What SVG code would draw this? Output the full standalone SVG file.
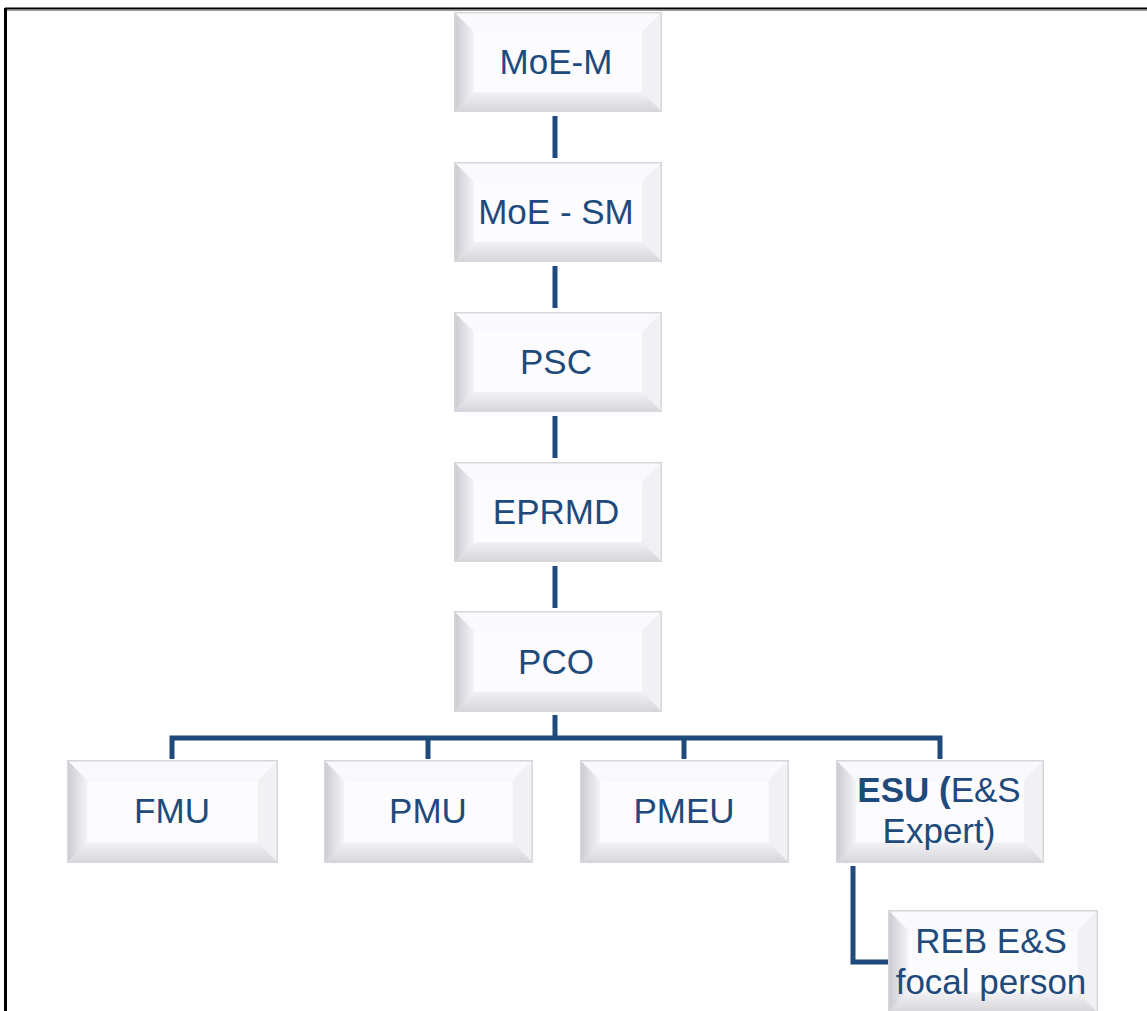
<svg xmlns="http://www.w3.org/2000/svg" xmlns:xlink="http://www.w3.org/1999/xlink" width="1147" height="1011" viewBox="0 0 1147 1011">
<style>
  .lbl { font-family: "Liberation Sans", Arial, sans-serif; font-size: 35px; fill: #1F4A7C; text-anchor: middle; }
  .b { font-weight: bold; }
  .conn { fill: none; stroke: #1F4A7C; stroke-width: 5; stroke-linejoin: miter; }
</style>
<defs>
  <linearGradient id="gl" x1="0" y1="0" x2="1" y2="0">
    <stop offset="0" stop-color="#c9c9d1"/>
    <stop offset="1" stop-color="#f4f4f7"/>
  </linearGradient>
  <linearGradient id="gb" x1="0" y1="0" x2="0" y2="1">
    <stop offset="0" stop-color="#f2f2f5"/>
    <stop offset="1" stop-color="#d4d4da"/>
  </linearGradient>
  <symbol id="bevel" viewBox="0 0 208 100" preserveAspectRatio="none">
    <rect x="0" y="0" width="208" height="100" fill="#eeeef1"/>
    <polygon points="0,0 208,0 188,20 20,20" fill="#fafafc"/>
    <polygon points="208,0 208,100 188,80 188,20" fill="#f1f1f4"/>
    <polygon points="0,100 20,80 188,80 208,100" fill="url(#gb)"/>
    <polygon points="0,0 20,20 20,80 0,100" fill="url(#gl)"/>
    <rect x="20" y="20" width="168" height="60" fill="#fcfcfe"/>
    <rect x="0.75" y="0.75" width="206.5" height="98.5" fill="none" stroke="#d6d7dc" stroke-width="1.5"/>
  </symbol>
</defs>
<rect x="0" y="0" width="1147" height="1011" fill="#ffffff"/>
<g id="frame">
  <line x1="5" y1="8.5" x2="1147" y2="8.5" stroke="#000" stroke-width="2"/>
  <line x1="7" y1="10.5" x2="1147" y2="10.5" stroke="#9a9a9a" stroke-width="1"/>
  <line x1="5.5" y1="8" x2="5.5" y2="1011" stroke="#000" stroke-width="3"/>
</g>
<g id="connectors">
  <line class="conn" x1="555" y1="116" x2="555" y2="158"/>
  <line class="conn" x1="555" y1="266" x2="555" y2="308"/>
  <line class="conn" x1="555" y1="416" x2="555" y2="458"/>
  <line class="conn" x1="555" y1="566" x2="555" y2="608"/>
  <line class="conn" x1="555" y1="715" x2="555" y2="738"/>
  <path class="conn" d="M172,759 V738 H940 V759"/>
  <line class="conn" x1="428" y1="738" x2="428" y2="759"/>
  <line class="conn" x1="684" y1="738" x2="684" y2="759"/>
  <path class="conn" d="M853,866 V962 H888"/>
</g>
<g id="node-moe-m">
  <use xlink:href="#bevel" x="454" y="12" width="208" height="100"/>
  <text class="lbl" x="556" y="74">MoE-M</text>
</g>
<g id="node-moe-sm">
  <use xlink:href="#bevel" x="454" y="162" width="208" height="100"/>
  <text class="lbl" x="556" y="224">MoE - SM</text>
</g>
<g id="node-psc">
  <use xlink:href="#bevel" x="454" y="312" width="208" height="100"/>
  <text class="lbl" x="556" y="374">PSC</text>
</g>
<g id="node-eprmd">
  <use xlink:href="#bevel" x="454" y="462" width="208" height="100"/>
  <text class="lbl" x="556" y="524">EPRMD</text>
</g>
<g id="node-pco">
  <use xlink:href="#bevel" x="454" y="611" width="208" height="101"/>
  <text class="lbl" x="556" y="674">PCO</text>
</g>
<g id="node-fmu">
  <use xlink:href="#bevel" x="67" y="760" width="211" height="103"/>
  <text class="lbl" x="172" y="823">FMU</text>
</g>
<g id="node-pmu">
  <use xlink:href="#bevel" x="324" y="760" width="209" height="103"/>
  <text class="lbl" x="428" y="823">PMU</text>
</g>
<g id="node-pmeu">
  <use xlink:href="#bevel" x="580" y="760" width="209" height="103"/>
  <text class="lbl" x="684" y="823">PMEU</text>
</g>
<g id="node-esu">
  <use xlink:href="#bevel" x="836" y="760" width="208" height="103"/>
  <text class="lbl"><tspan x="939" y="802"><tspan class="b">ESU (</tspan>E&amp;S</tspan><tspan x="939" y="843">Expert)</tspan></text>
</g>
<g id="node-reb">
  <use xlink:href="#bevel" x="888" y="910" width="210" height="103"/>
  <text class="lbl"><tspan x="991" y="953">REB E&amp;S</tspan><tspan x="991" y="994">focal person</tspan></text>
</g>
</svg>
